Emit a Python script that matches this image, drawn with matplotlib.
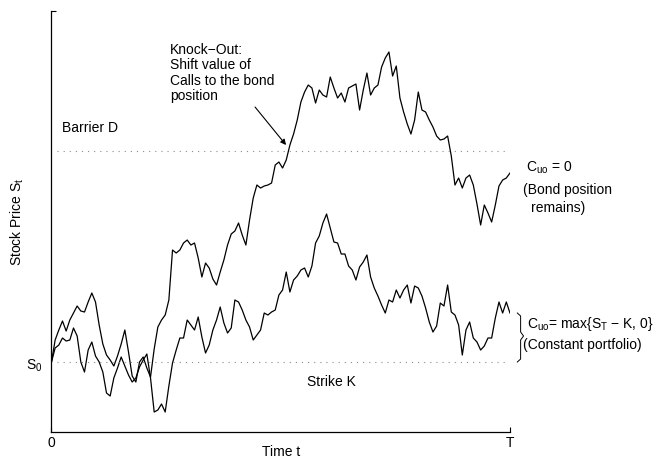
import matplotlib
matplotlib.use("Agg")
import matplotlib.pyplot as plt
import numpy as np

plt.rcParams["font.family"] = ["Liberation Sans", "DejaVu Sans"]
plt.rcParams["mathtext.default"] = "regular"

# ── Parameters of the up-and-out call ─────────────────────────────────────────
T = 250          # trading days to maturity
S0 = 100.0       # initial stock price (= strike)
K = 100.0
D = 142.3        # knock-out barrier

# Path that hits the barrier (sampled every 2 days)
price_knocked = [
    100.0, 104.4, 106.4, 108.2, 106.2, 108.4, 109.8, 111.2, 110.2, 110.0,
    112.0, 113.8, 112.0, 107.4, 103.6, 101.4, 100.4, 99.2, 101.2, 103.6,
    106.4, 102.0, 97.2, 96.0, 100.0, 101.0, 98.8, 97.0, 102.6, 107.0,
    108.4, 109.4, 112.4, 122.4, 121.8, 122.4, 123.8, 124.4, 123.4, 123.8,
    120.8, 117.0, 119.8, 118.8, 116.6, 115.4, 118.0, 120.4, 123.4, 125.6,
    126.2, 127.8, 125.4, 123.4, 128.4, 132.8, 135.4, 134.8, 135.2, 135.4,
    135.8, 139.4, 140.0, 138.8, 140.4, 143.4, 145.6, 148.4, 152.0, 154.0,
    155.4, 154.8, 151.8, 154.4, 153.4, 153.0, 157.0, 154.8, 152.8, 153.8,
    152.0, 154.8, 155.2, 155.6, 150.4, 154.4, 157.8, 153.4, 154.8, 155.4,
    159.0, 160.8, 162.0, 157.2, 159.2, 152.8, 150.0, 147.6, 145.6, 148.4,
    154.0, 150.4, 150.0, 148.4, 147.0, 145.2, 144.4, 144.6, 145.2, 141.2,
    135.4, 136.8, 134.8, 136.8, 137.4, 135.4, 131.6, 127.4, 131.4, 129.8,
    128.0, 131.4, 135.2, 136.4, 136.8, 137.8,
]

# Path that stays below the barrier
price_alive = [
    100.0, 102.8, 103.4, 104.8, 104.2, 104.4, 106.8, 105.2, 100.0, 98.0,
    102.4, 104.0, 101.2, 100.0, 98.0, 93.8, 93.2, 96.8, 98.8, 101.0,
    99.2, 97.4, 96.0, 96.8, 99.0, 100.4, 101.6, 96.8, 90.0, 90.4,
    91.6, 90.0, 95.2, 99.8, 102.4, 104.8, 104.8, 108.4, 107.4, 106.4,
    109.0, 105.0, 101.8, 103.4, 106.4, 108.4, 111.0, 107.8, 105.8, 106.8,
    112.4, 112.0, 110.4, 108.4, 107.0, 104.4, 105.4, 106.4, 109.8, 109.4,
    110.0, 110.4, 113.4, 114.4, 118.0, 114.0, 116.4, 117.2, 118.4, 118.8,
    117.0, 119.2, 123.8, 125.2, 127.8, 129.6, 126.8, 124.0, 123.8, 121.6,
    121.6, 119.2, 118.4, 116.4, 119.0, 120.0, 121.4, 117.0, 114.8, 113.2,
    111.4, 109.8, 112.4, 112.0, 114.4, 112.8, 114.4, 115.4, 111.8, 115.2,
    114.8, 113.2, 110.8, 108.0, 106.0, 107.2, 111.8, 111.2, 115.4, 110.0,
    109.4, 107.4, 101.4, 106.4, 108.0, 104.8, 104.0, 102.4, 103.2, 104.8,
    104.8, 108.8, 112.0, 109.8, 112.0, 109.8,
]

t_knocked = np.linspace(0, T, len(price_knocked))
t_alive = np.linspace(0, T, len(price_alive))

fig = plt.figure(figsize=(6.6, 4.59), dpi=100)
ax = fig.add_axes([0.078, 0.0588, 0.6947, 0.9172])

ax.plot(t_knocked, price_knocked, color="black", lw=0.9)
ax.plot(t_alive, price_alive, color="black", lw=0.9)

# Barrier and strike levels
dots = dict(color="0.55", lw=0.8, linestyle=(0, (1, 4.5)))
ax.axhline(D, xmin=0.012, xmax=0.99, **dots)
ax.axhline(K, xmin=0.012, xmax=0.99, **dots)

ax.set_xlim(0, T)
ax.set_ylim(86, 170.2)

for side in ("top", "right"):
    ax.spines[side].set_visible(False)
for side in ("left", "bottom"):
    ax.spines[side].set_linewidth(0.9)

fs = 10
ax.set_xticks([0, T])
ax.set_xticklabels(["0", "T"])
ax.set_yticks([170.2])
ax.set_yticklabels([""])
ax.tick_params(direction="in", length=3.5, width=0.8, labelsize=fs, pad=3)

ax.set_xlabel("Time t", fontsize=fs)
ax.xaxis.set_label_coords(0.5, -0.03)
ax.set_ylabel("Stock Price $S_t$", fontsize=fs, labelpad=15)

ax.text(5.7, 146.8, "Barrier D", fontsize=fs, va="center", ha="left")
ax.text(152.4, 96.0, "Strike K", fontsize=fs, va="center", ha="center")
ax.text(-9.5, 99.2, "$S_0$", fontsize=fs, va="center", ha="center")

ax.text(64.6, 163.8, "Knock\u2212Out:\nShift value of\nCalls to the bond\nposition",
        fontsize=fs, va="top", ha="left", linespacing=1.12)
ax.annotate("", xy=(127.9, 143.4), xytext=(111.0, 151.0),
            arrowprops=dict(arrowstyle="-|>", color="black", lw=0.8,
                            mutation_scale=8, shrinkA=0, shrinkB=0))

# Payoff notes to the right of maturity
ax.text(258.7, 138.8, "$C_{uo}$ = 0", fontsize=fs, va="center", ha="left", clip_on=False)
ax.text(257.1, 134.4, "(Bond position", fontsize=fs, va="center", ha="left", clip_on=False)
ax.text(261.5, 130.8, "remains)", fontsize=fs, va="center", ha="left", clip_on=False)

ax.text(259.3, 107.6, "$C_{uo}$= max{$S_T$ \u2212 K, 0}", fontsize=fs, va="center",
        ha="left", clip_on=False)
ax.text(257.1, 103.4, "(Constant portfolio)", fontsize=fs, va="center", ha="left",
        clip_on=False)

# Curly brace spanning the final price down to the strike
bx, by = 254.0, 109.8
brace_t = [bx, bx + 1.8, bx + 1.8, bx + 3.4, bx + 1.8, bx + 1.8, bx]
brace_p = [by, by - 0.6, 106.0, 105.2, 104.4, K + 0.6, K]
ax.plot(brace_t, brace_p, color="black", lw=0.7, clip_on=False)

fig.savefig("out.png", dpi=100, facecolor="white")
